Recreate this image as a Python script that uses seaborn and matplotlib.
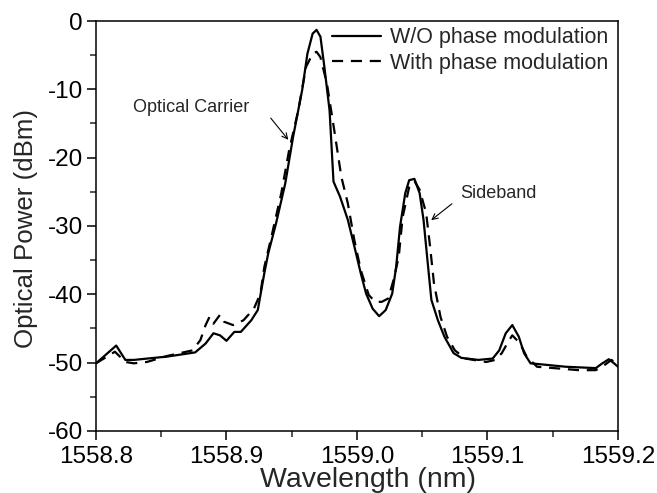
import matplotlib
matplotlib.use("Agg")
import matplotlib.pyplot as plt
from matplotlib.ticker import AutoMinorLocator
import seaborn as sns
import pandas as pd

# ---- data ----
wl_without = [1558.800, 1558.8155, 1558.8225, 1558.829, 1558.855, 1558.876, 1558.884, 1558.890,
              1558.895, 1558.900, 1558.906, 1558.911, 1558.919, 1558.924, 1558.929, 1558.932,
              1558.938, 1558.945, 1558.951, 1558.958, 1558.962, 1558.966, 1558.969, 1558.972,
              1558.975, 1558.979, 1558.982, 1558.987, 1558.993, 1558.998, 1559.003, 1559.007,
              1559.012, 1559.017, 1559.022, 1559.027, 1559.030, 1559.033, 1559.037, 1559.040,
              1559.044, 1559.048, 1559.051, 1559.054, 1559.057, 1559.062, 1559.067, 1559.074,
              1559.080, 1559.093, 1559.104, 1559.109, 1559.114, 1559.119, 1559.124, 1559.128,
              1559.133, 1559.144, 1559.160, 1559.183, 1559.188, 1559.193, 1559.197, 1559.200]
pw_without = [-50.1, -47.5, -49.6, -49.6, -49.1, -48.5, -47.2, -45.7,
              -46.0, -46.8, -45.5, -45.5, -43.8, -42.3, -36.9, -34.0,
              -29.6, -23.8, -17.0, -10.1, -4.8, -1.85, -1.3, -2.3,
              -6.7, -13.1, -23.5, -25.7, -29.1, -33.0, -37.0, -39.9,
              -42.1, -43.2, -42.3, -39.9, -36.0, -30.1, -25.2, -23.3,
              -23.1, -25.2, -29.1, -35.0, -40.8, -43.8, -46.2, -48.6,
              -49.3, -49.6, -49.4, -48.2, -45.7, -44.5, -46.2, -48.6,
              -50.1, -50.3, -50.6, -50.8, -50.1, -49.5, -50.1, -50.6]

wl_with = [1558.800, 1558.8145, 1558.8225, 1558.829, 1558.839, 1558.855, 1558.874, 1558.880,
           1558.884, 1558.887, 1558.890, 1558.895, 1558.898, 1558.905, 1558.913, 1558.921,
           1558.926, 1558.929, 1558.935, 1558.942, 1558.948, 1558.955, 1558.961, 1558.966,
           1558.969, 1558.972, 1558.977, 1558.983, 1558.988, 1558.993, 1558.998, 1559.003,
           1559.009, 1559.014, 1559.019, 1559.024, 1559.028, 1559.032, 1559.035, 1559.040,
           1559.044, 1559.048, 1559.053, 1559.056, 1559.059, 1559.064, 1559.069, 1559.075,
           1559.083, 1559.099, 1559.106, 1559.111, 1559.116, 1559.119, 1559.125, 1559.130,
           1559.138, 1559.151, 1559.170, 1559.183, 1559.190, 1559.195, 1559.200]
pw_with = [-50.1, -48.4, -49.9, -50.1, -49.9, -49.0, -48.2, -46.7,
           -44.5, -43.3, -44.3, -43.0, -44.0, -44.5, -43.8, -42.1,
           -39.9, -36.0, -31.1, -25.2, -18.9, -13.1, -6.7, -4.8,
           -4.5, -5.3, -9.2, -16.5, -22.8, -26.7, -32.1, -36.5,
           -40.1, -41.1, -41.1, -40.6, -37.9, -34.5, -28.7, -24.3,
           -23.4, -24.7, -28.1, -33.0, -38.4, -43.3, -46.2, -48.2,
           -49.4, -49.9, -49.6, -48.6, -46.9, -46.0, -47.2, -49.1,
           -50.6, -50.8, -51.1, -51.1, -50.3, -49.6, -50.3]

labels = ["W/O phase modulation", "With phase modulation"]
x_ticks = [1558.8, 1558.9, 1559.0, 1559.1, 1559.2]
y_ticks = [0, -10, -20, -30, -40, -50, -60]

# ---- style ----
sns.set_style("ticks")
plt.rcParams['font.family'] = ['Liberation Sans', 'DejaVu Sans']
plt.rcParams['axes.unicode_minus'] = False

fig = plt.figure(figsize=(6.57, 4.93), dpi=100)
ax = fig.add_axes([0.1461, 0.1258, 0.7945, 0.8316])

df1 = pd.DataFrame({"wl": wl_without, "pw": pw_without})
df2 = pd.DataFrame({"wl": wl_with, "pw": pw_with})

sns.lineplot(data=df1, x="wl", y="pw", ax=ax, color="black", linewidth=1.6,
             estimator=None, sort=False, label=labels[0])
sns.lineplot(data=df2, x="wl", y="pw", ax=ax, color="black", linewidth=1.6,
             estimator=None, sort=False, label=labels[1], linestyle=(0, (5, 3.5)))

ax.set_xlim(1558.8, 1559.2)
ax.set_ylim(-60, 0)
ax.set_xticks(x_ticks)
ax.set_xticklabels([f"{v:.1f}" for v in x_ticks])
ax.set_yticks(y_ticks)
ax.xaxis.set_minor_locator(AutoMinorLocator(2))
ax.yaxis.set_minor_locator(AutoMinorLocator(2))

for s in ax.spines.values():
    s.set_visible(True)
    s.set_linewidth(1.1)
    s.set_color("black")

ax.tick_params(which="major", direction="out", length=6.5, width=1.1, labelsize=17.5,
               pad=3, colors="black", top=False, right=False)
ax.tick_params(axis="x", which="major", pad=4.5)
ax.tick_params(which="minor", direction="out", length=4.3, width=1.1,
               top=False, right=False)

ax.set_xlabel("Wavelength (nm)", fontsize=20.5)
ax.set_ylabel("Optical Power (dBm)", fontsize=18.6)
ax.xaxis.set_label_coords(0.521, -0.088)
ax.yaxis.set_label_coords(-0.112, 0.493)

leg = ax.legend(loc="upper left", bbox_to_anchor=(0.452, 0.985), frameon=False,
                fontsize=15.5, handlelength=2.3, handletextpad=0.4, labelspacing=0.22,
                borderpad=0, borderaxespad=0)

ax.text(1558.873, -12.6, "Optical Carrier", fontsize=13, ha="center", va="center")
ax.annotate("", xy=(1558.9487, -17.7), xytext=(1558.9326, -13.9),
            arrowprops=dict(arrowstyle="->", color="black", lw=0.8))
ax.text(1559.108, -25.2, "Sideband", fontsize=13, ha="center", va="center")
ax.annotate("", xy=(1559.0552, -29.4), xytext=(1559.0744, -26.5),
            arrowprops=dict(arrowstyle="->", color="black", lw=0.8))

fig.savefig("out.png", dpi=100)
